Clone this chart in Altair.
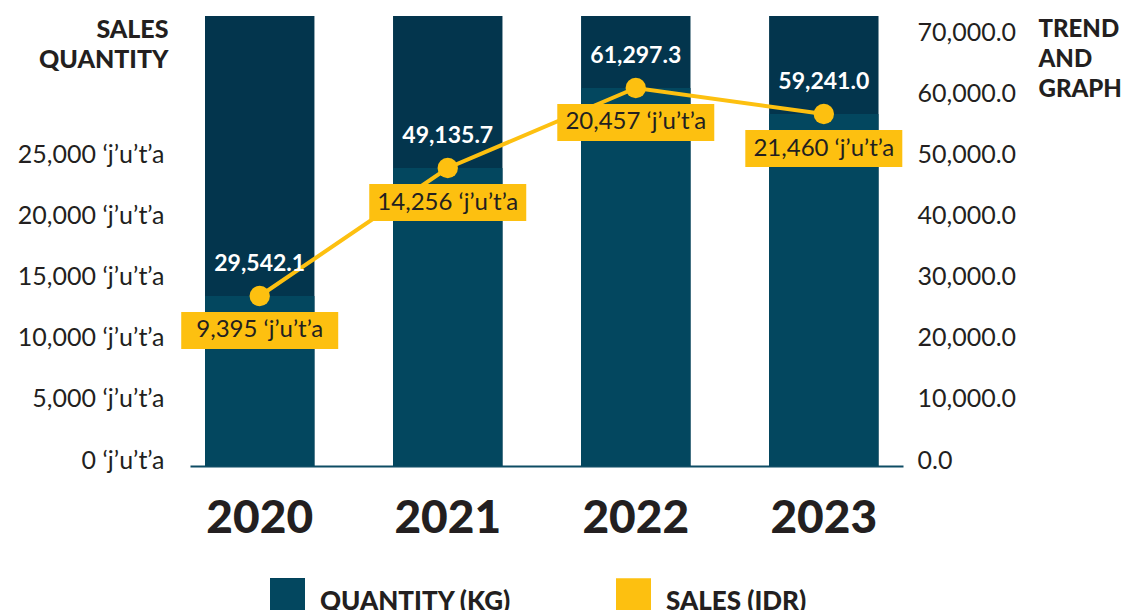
import altair as alt
import pandas as pd

# ---- data ----
years = ["2020", "2021", "2022", "2023"]
quantity_pos = [27870, 48850, 61970, 57700]          # bar tops / points on right axis
quantity_labels = ["29,542.1", "49,135.7", "61,297.3", "59,241.0"]
sales_idr = [9395, 14256, 20457, 21460]
series_names = ["QUANTITY (KG)", "SALES (IDR)"]
left_ticks = [0, 5000, 10000, 15000, 20000, 25000]
right_ticks = [0, 10000, 20000, 30000, 40000, 50000, 60000, 70000]
left_max = 36885
right_max = 73770

UNIT = " \u2018j\u2019u\u2019t\u2019a"

df = pd.DataFrame({
    "year": years,
    "q": quantity_pos,
    "qlabel": quantity_labels,
    "sales": sales_idr,
    "slabel": [f"{v:,}{UNIT}" for v in sales_idr],
    "full": [right_max] * len(years),
    "series": [series_names[0]] * len(years),
    "bgseries": ["background"] * len(years),
})

DARK = "#03354D"
LIGHT = "#03475F"
YELLOW = "#FDC010"
TXT = "#231F20"
FONT = "Lato"

x_enc = alt.X(
    "year:N", sort=years, title=None,
    scale=alt.Scale(paddingInner=0.418, paddingOuter=0.105, align=0.38),
    axis=alt.Axis(labelAngle=0, labelFontSize=46, labelFontWeight=900, labelFont=FONT,
                  labelColor=TXT, labelPadding=30, ticks=False, domainColor="#0E4C64",
                  domainWidth=2, grid=False),
)

rscale = alt.Scale(domain=[0, right_max], nice=False, zero=True)
raxis = alt.Axis(orient="right", values=right_ticks, format=",.1f", labelFontSize=25,
                 labelFont=FONT, labelColor=TXT, labelPadding=14, labelOffset=-6,
                 domain=False, ticks=False, grid=False,
                 title=["TREND", "AND", "GRAPH"], titleAngle=0, titleAlign="left",
                 titleBaseline="top", titleX=135, titleY=1, titleFontSize=24,
                 titleFontWeight=900, titleFont=FONT, titleColor=TXT, titleLineHeight=30)

lscale = alt.Scale(domain=[0, left_max], nice=False, zero=True)
laxis = alt.Axis(orient="left", values=left_ticks,
                 labelExpr="format(datum.value, ',') + ' \u2018j\u2019u\u2019t\u2019a'",
                 labelFontSize=25, labelFont=FONT, labelColor=TXT, labelPadding=26,
                 labelOffset=-6, domain=False, ticks=False, grid=False,
                 title=["SALES", "QUANTITY"], titleAngle=0, titleAlign="right",
                 titleBaseline="top", titleX=-22, titleY=1, titleFontSize=25,
                 titleFontWeight=900, titleFont=FONT, titleColor=TXT, titleLineHeight=30)

base = alt.Chart(df)

left_layer = base.mark_point(opacity=0).encode(
    x=x_enc, y=alt.Y("sales:Q", scale=lscale, axis=laxis))

y_q = alt.Y("q:Q", scale=rscale, axis=raxis)

LEG_X, LEG_Y = 80, 568.5
FULL_SQ = "M-1,-1.371H1V0.629H-1Z"
TOP_HALF = "M-1,-1.371H1V-0.371H-1Z"

bg = base.mark_bar(strokeWidth=0).encode(
    x=x_enc, y=alt.Y("full:Q", scale=rscale, axis=raxis),
    fill=alt.Fill("bgseries:N", scale=alt.Scale(range=[DARK]),
                  legend=alt.Legend(orient="none", legendX=LEG_X, legendY=LEG_Y,
                                    direction="horizontal", title=None,
                                    symbolType=TOP_HALF, symbolSize=1225,
                                    symbolStrokeWidth=0, symbolOpacity=1,
                                    labelExpr="''", labelFontSize=26, labelOffset=15,
                                    padding=0)))

fg = base.mark_bar().encode(
    x=x_enc, y=y_q,
    color=alt.Color("series:N",
                    scale=alt.Scale(domain=series_names, range=[LIGHT, YELLOW]),
                    legend=alt.Legend(orient="none", legendX=LEG_X, legendY=LEG_Y,
                                      direction="horizontal", title=None,
                                      symbolType=FULL_SQ, symbolSize=1225,
                                      symbolStrokeWidth=0, symbolOpacity=1,
                                      labelFontSize=26, labelFontWeight=900,
                                      labelFont=FONT, labelColor=TXT, labelOffset=15,
                                      columnPadding=104, padding=0, labelLimit=0)))

line = base.mark_line(color=YELLOW, strokeWidth=4).encode(x=x_enc, y=y_q)
pts = base.mark_circle(color=YELLOW, size=415, opacity=1).encode(x=x_enc, y=y_q)

qtext = base.mark_text(color="white", fontSize=23, fontWeight="bold", font=FONT,
                       dy=-32, baseline="middle").encode(x=x_enc, y=y_q, text="qlabel:N")

BOX = "M-4.243,-1H4.243V1H-4.243Z"
boxes = base.mark_point(shape=BOX, size=1369, filled=True, color=YELLOW, opacity=1,
                        strokeWidth=0, yOffset=34.5).encode(x=x_enc, y=y_q)
stext = base.mark_text(color=TXT, fontSize=24, font=FONT, dy=34.5,
                       baseline="middle").encode(x=x_enc, y=y_q, text="slabel:N")

right_group = alt.layer(bg, fg, line, pts, qtext, boxes, stext)

chart = alt.layer(left_layer, right_group).resolve_scale(y="independent").properties(
    width=713, height=450,
    autosize=alt.AutoSizeParams(type="none"),
    padding={"left": 182, "top": 8, "right": 221, "bottom": 160},
    background="white",
).configure_view(stroke=None)

chart.save("out.html", embed_options={"renderer": "svg", "actions": False})
